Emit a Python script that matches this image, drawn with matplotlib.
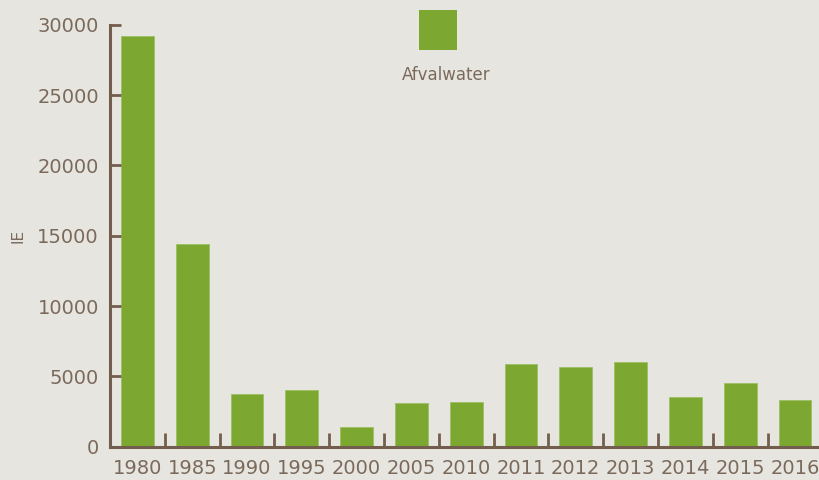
import numpy as np
import matplotlib as mpl
mpl.use('Agg')
import matplotlib.pyplot as plt
from matplotlib.patches import Rectangle

# --- data
years = ['1980', '1985', '1990', '1995', '2000', '2005', '2010',
         '2011', '2012', '2013', '2014', '2015', '2016']
ie = [29200, 14400, 3750, 4030, 1400, 3090, 3180,
      5880, 5670, 6020, 3530, 4550, 3320]
series_name = 'Afvalwater'
yticks = [0, 5000, 10000, 15000, 20000, 25000, 30000]

bg = '#e6e5df'
green = '#7ca730'
brown = '#735e4d'
txt = '#7b6a5c'

plt.rcParams['font.family'] = ['DejaVu Sans']

W, H = 819, 480
fig = plt.figure(figsize=(W/100, H/100), dpi=100, facecolor=bg)

# axes box in pixels: left 110, zero at 446.7, 30000 at 24.7, 54.8 px per category
x0, y0, ytop, cw = 110, 446.7, 24.7, 54.8
ax = fig.add_axes([x0/W, (H-y0)/H, 13*cw/W, (y0-ytop)/H])
ax.set_facecolor(bg)

x = np.arange(len(years))
ax.bar(x, ie, width=0.6, color=green, edgecolor='#9cc060', linewidth=0.6)

ax.set_xlim(-0.5, len(years)-0.5)
ax.set_ylim(0, 30000)

for s in ['top', 'right']:
    ax.spines[s].set_visible(False)
for s in ['left', 'bottom']:
    ax.spines[s].set_color(brown)
    ax.spines[s].set_linewidth(2.2)

ax.set_yticks(yticks)
ax.set_yticklabels([str(v) for v in yticks])
ax.tick_params(axis='y', direction='in', length=8, width=2, color=brown,
               labelcolor=txt, labelsize=14, pad=8)

ax.set_xticks(x)
ax.set_xticklabels(years)
ax.set_xticks(np.arange(len(years)) - 0.5, minor=True)
ax.tick_params(axis='x', which='major', length=0, labelcolor=txt, labelsize=14, pad=9)
ax.tick_params(axis='x', which='minor', direction='in', length=10, width=2, color=brown)

ax.set_ylabel('IE', color=txt, fontsize=11)
ax.yaxis.set_label_coords(-(x0-26)/(13*cw), 0.5)

# legend: swatch above the label
fig.patches.append(Rectangle((419/W, 1-50/H), 38/W, 40/H, transform=fig.transFigure,
                             facecolor=green, edgecolor='none'))
fig.text(446/W, 1-75/H, series_name, ha='center', va='center', color=txt, fontsize=12)

fig.savefig('out.png', dpi=100, facecolor=bg)
